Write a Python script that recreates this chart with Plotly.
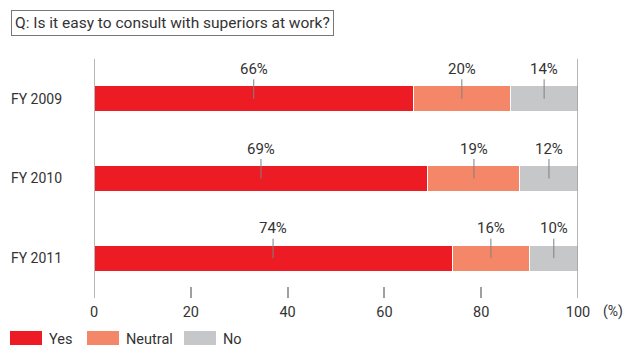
import plotly.graph_objects as go

categories = ["FY 2009", "FY 2010", "FY 2011"]
series_names = ["Yes", "Neutral", "No"]
yes_vals = [66, 69, 74]
neutral_vals = [20, 19, 16]
no_vals = [14, 12, 10]
x_ticks = [0, 20, 40, 60, 80, 100]
colors = ["#ED1C24", "#F58769", "#C6C7C9"]
title_text = "Q: Is it easy to consult with superiors at work?"

FONT = "Roboto, sans-serif"
TXT = "#333333"

series = [yes_vals, neutral_vals, no_vals]
fig = go.Figure()
for name, vals, col in zip(series_names, series, colors):
    fig.add_trace(go.Bar(
        y=categories, x=vals, name=name, orientation="h",
        marker=dict(color=col, line=dict(color="white", width=1)),
        width=0.33, showlegend=False, hoverinfo="skip",
    ))

annotations = []
for i, cat in enumerate(categories):
    start = 0
    for vals in series:
        v = vals[i]
        mid = start + v / 2
        annotations.append(dict(
            x=mid, y=cat, xref="x", yref="y", text=f"{v}%",
            showarrow=True, arrowhead=0, arrowwidth=1, arrowcolor="#808080",
            ax=0, ay=-30, standoff=0, startstandoff=0,
            font=dict(family=FONT, size=15, color=TXT),
        ))
        start += v

# title box
annotations.append(dict(
    x=-0.171, y=1.205, xref="paper", yref="paper", xanchor="left", yanchor="top",
    text=title_text, showarrow=False, bordercolor="#777777", borderwidth=1,
    borderpad=3, bgcolor="white", align="left",
    font=dict(family=FONT, size=15.5, color=TXT),
))
# unit
annotations.append(dict(
    x=1.072, y=-0.055, xref="paper", yref="paper", xanchor="center", yanchor="middle",
    text="(%)", showarrow=False, font=dict(family=FONT, size=14, color=TXT),
))

shapes = []
# boundary lines at 0 and 100
for xv in (x_ticks[0], x_ticks[-1]):
    shapes.append(dict(type="line", xref="x", yref="paper", x0=xv, x1=xv, y0=0, y1=1,
                       line=dict(color="#A0A0A0", width=1.5)))

# legend
leg_x = [10, 87, 184]
for name, col, lx in zip(series_names, colors, leg_x):
    x0 = (lx - 94) / 484
    x1 = (lx + 32 - 94) / 484
    shapes.append(dict(type="rect", xref="paper", yref="paper", x0=x0, x1=x1,
                       y0=(298 - 345) / 239, y1=(298 - 331) / 239,
                       line=dict(width=0), fillcolor=col))
    annotations.append(dict(x=(lx + 37 - 94) / 484, y=(298 - 339) / 239, xref="paper", yref="paper",
                            xanchor="left", yanchor="middle", text=name, showarrow=False,
                            font=dict(family=FONT, size=14.5, color=TXT)))

fig.update_layout(
    barmode="stack",
    width=628, height=347,
    margin=dict(l=94, r=50, t=59, b=49),
    paper_bgcolor="white", plot_bgcolor="white",
    xaxis=dict(range=[0, 100], tickvals=x_ticks, ticks="inside", ticklen=11,
               tickcolor="#A0A0A0", tickwidth=1.5, showgrid=False, zeroline=False,
               showline=False, ticklabelstandoff=3,
               tickfont=dict(family=FONT, size=14.5, color=TXT)),
    yaxis=dict(categoryorder="array", categoryarray=categories, range=[2.5, -0.5],
               showgrid=False, zeroline=False, showline=False, ticks="",
               ticklabelstandoff=31,
               tickfont=dict(family=FONT, size=14, color=TXT)),
    annotations=annotations,
    shapes=shapes,
)

fig.write_html("out.html")
